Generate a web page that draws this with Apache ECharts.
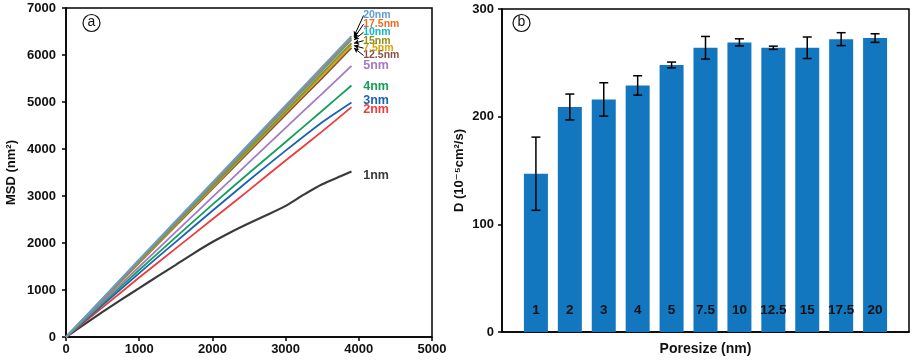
<!DOCTYPE html>
<html><head><meta charset="utf-8">
<script src="https://cdn.jsdelivr.net/npm/echarts@6/dist/echarts.min.js"></script>
<style>html,body{margin:0;padding:0;background:#fff}#c{width:913px;height:361px}</style>
</head><body><div id="c"></div>
<script>
// ---- Panel (a): MSD vs time ----
var msdX = [0, 500, 1000, 1500, 2000, 2500, 3000, 3500, 3900];
var msd1X = [0, 250, 500, 750, 1000, 1250, 1500, 1750, 2000, 2250, 2500, 2750, 3000, 3250, 3500, 3750, 3900];
var msd1nm = [0, 270, 535, 790, 1040, 1290, 1535, 1785, 2020, 2230, 2420, 2600, 2790, 3030, 3250, 3420, 3520];
var msd2nm = [0, 630, 1265, 1885, 2505, 3125, 3755, 4375, 4890];
var msd3nm = [0, 680, 1360, 2025, 2685, 3335, 3965, 4570, 4990];
var msd4nm = [0, 715, 1425, 2125, 2815, 3490, 4150, 4815, 5350];
var msd5nm = [0, 750, 1495, 2235, 2975, 3715, 4450, 5180, 5770];
var msd75nm = [0, 795, 1590, 2385, 3180, 3975, 4770, 5560, 6200];
var msd10nm = [0, 810, 1625, 2430, 3240, 4050, 4860, 5670, 6320];
var msd125nm = [0, 790, 1575, 2365, 3150, 3940, 4725, 5510, 6150];
var msd15nm = [0, 800, 1605, 2405, 3205, 4005, 4800, 5610, 6250];
var msd175nm = [0, 815, 1635, 2450, 3265, 4080, 4890, 5710, 6360];
var msd20nm = [0, 820, 1650, 2470, 3290, 4110, 4930, 5750, 6400];
var lineNames = ['1nm', '2nm', '3nm', '4nm', '5nm', '12.5nm', '7.5nm', '15nm', '10nm', '17.5nm', '20nm'];
var lineColors = ['#3a3a3a', '#ee3b3b', '#1862b8', '#14a05a', '#a57bc4', '#8a5046', '#d9a400', '#8f8e1e', '#12b5c9', '#f26a21', '#5aa0d6'];
var lineLabelY = [3440, 4830, 5040, 5330, 5770, 5990, 6145, 6305, 6485, 6655, 6840];
var xTicks = [0, 1000, 2000, 3000, 4000, 5000];
var yTicksA = [0, 1000, 2000, 3000, 4000, 5000, 6000, 7000];

// ---- Panel (b): diffusion coefficient ----
var poreSizes = ['1', '2', '3', '4', '5', '7.5', '10', '12.5', '15', '17.5', '20'];
var dValues = [147, 209, 216, 229, 248, 264, 269, 264, 264, 272, 273];
var dErrors = [34, 12, 15.5, 9, 2.7, 10.5, 3.3, 1.5, 10, 6, 4];
var yTicksB = [0, 100, 200, 300];

var seriesData = [msd1nm, msd2nm, msd3nm, msd4nm, msd5nm, msd125nm, msd75nm, msd15nm, msd10nm, msd175nm, msd20nm];
var FONT = '"Liberation Sans", Arial, "DejaVu Sans", sans-serif';

function pair(xs, ys) { return ys.map(function (v, i) { return [xs[i], v]; }); }

var series = [];
seriesData.forEach(function (d, i) {
  var xs = (i === 0) ? msd1X : msdX;
  var s = {
    type: 'line', xAxisIndex: 0, yAxisIndex: 0, name: lineNames[i],
    data: pair(xs, d), showSymbol: false, symbol: 'none', smooth: 0.2,
    lineStyle: { color: lineColors[i], width: (i === 0 ? 2.2 : 1.8) },
    z: 2 + i
  };
  var end = d[d.length - 1];
  var isCluster = i >= 5;
  s.markPoint = {
    symbol: 'circle', symbolSize: 0, silent: true,
    data: [{ coord: [4060, lineLabelY[i]], value: lineNames[i] }],
    label: {
      show: true, position: 'right', distance: 0, formatter: lineNames[i],
      color: lineColors[i], fontFamily: FONT, fontWeight: 'bold',
      fontSize: isCluster ? 10.5 : 12.5
    }
  };
  if (isCluster) {
    s.markLine = {
      silent: true, symbol: ['none', 'arrow'], symbolSize: [4, 5],
      lineStyle: { color: '#000', width: 1, type: 'solid' },
      label: { show: false },
      data: [[{ coord: [4065, lineLabelY[i]] }, { coord: [3935, end] }]]
    };
  }
  series.push(s);
});

series.push({
  type: 'bar', xAxisIndex: 1, yAxisIndex: 1,
  data: dValues.map(function (v, i) { return [i + 1, v]; }),
  barWidth: 24,
  itemStyle: { color: '#1277be' },
  label: {
    show: true, position: 'insideBottom', distance: 15,
    formatter: function (p) { return poreSizes[p.dataIndex]; },
    color: '#111', fontFamily: FONT, fontWeight: 'bold', fontSize: 13.5
  },
  z: 2
});

series.push({
  type: 'custom', xAxisIndex: 1, yAxisIndex: 1,
  data: dValues.map(function (v, i) { return [i + 1, v - dErrors[i], v + dErrors[i]]; }),
  renderItem: function (params, api) {
    var x = api.value(0);
    var lo = api.coord([x, api.value(1)]);
    var hi = api.coord([x, api.value(2)]);
    var hw = 4.5;
    var st = { stroke: '#000', lineWidth: 1.5 };
    return {
      type: 'group', children: [
        { type: 'line', shape: { x1: lo[0], y1: lo[1], x2: hi[0], y2: hi[1] }, style: st },
        { type: 'line', shape: { x1: lo[0] - hw, y1: lo[1], x2: lo[0] + hw, y2: lo[1] }, style: st },
        { type: 'line', shape: { x1: hi[0] - hw, y1: hi[1], x2: hi[0] + hw, y2: hi[1] }, style: st }
      ]
    };
  },
  z: 5
});

function plain(v) { return String(v); }
var axisLabelStyle = { color: '#111', fontFamily: FONT, fontWeight: 'bold', fontSize: 13, formatter: plain };
var chart = echarts.init(document.getElementById('c'));
chart.setOption({
  animation: false,
  backgroundColor: '#fff',
  grid: [
    { left: 66, right: 481, top: 8, bottom: 24, show: true, borderColor: '#000', borderWidth: 1.5, backgroundColor: 'transparent' },
    { left: 502, right: 4, top: 9, bottom: 26, show: true, borderColor: '#000', borderWidth: 1.5, backgroundColor: 'transparent' }
  ],
  xAxis: [
    {
      type: 'value', gridIndex: 0, min: xTicks[0], max: xTicks[xTicks.length - 1], interval: 1000,
      axisLine: { lineStyle: { color: '#000', width: 1.5 } },
      axisTick: { show: true, inside: false, length: 4, lineStyle: { color: '#000', width: 1.5 } },
      splitLine: { show: false },
      axisLabel: Object.assign({ margin: 6 }, axisLabelStyle)
    },
    {
      type: 'value', gridIndex: 1, min: 0, max: 12,
      axisLine: { lineStyle: { color: '#000', width: 1.5 } },
      axisTick: { show: false }, axisLabel: { show: false }, splitLine: { show: false },
      name: 'Poresize (nm)', nameLocation: 'middle', nameGap: 10,
      nameTextStyle: { color: '#111', fontFamily: FONT, fontWeight: 'bold', fontSize: 14, verticalAlign: 'top' }
    }
  ],
  yAxis: [
    {
      type: 'value', gridIndex: 0, min: yTicksA[0], max: yTicksA[yTicksA.length - 1], interval: 1000,
      axisLine: { show: true, lineStyle: { color: '#000', width: 1.5 } },
      axisTick: { show: true, inside: false, length: 4, lineStyle: { color: '#000', width: 1.5 } },
      splitLine: { show: false },
      axisLabel: Object.assign({ margin: 10 }, axisLabelStyle),
      name: 'MSD (nm²)', nameLocation: 'middle', nameGap: 48, nameRotate: 90,
      nameTextStyle: { color: '#111', fontFamily: FONT, fontWeight: 'bold', fontSize: 13 }
    },
    {
      type: 'value', gridIndex: 1, min: yTicksB[0], max: yTicksB[yTicksB.length - 1], interval: 100,
      axisLine: { show: true, lineStyle: { color: '#000', width: 1.5 } },
      axisTick: { show: true, inside: false, length: 4, lineStyle: { color: '#000', width: 1.5 } },
      splitLine: { show: false },
      axisLabel: Object.assign({ margin: 8 }, axisLabelStyle),
      name: 'D (10⁻⁵cm²/s)', nameLocation: 'middle', nameGap: 36, nameRotate: 90,
      nameTextStyle: { color: '#111', fontFamily: FONT, fontWeight: 'bold', fontSize: 13 }
    }
  ],
  graphic: [
    { type: 'circle', shape: { cx: 91.5, cy: 23, r: 8.5 }, style: { fill: '#fff', stroke: '#111', lineWidth: 1.2 } },
    { type: 'text', x: 91.5, y: 22.5, style: { text: 'a', fill: '#111', font: '14px ' + FONT, align: 'center', verticalAlign: 'middle' } },
    { type: 'circle', shape: { cx: 521.5, cy: 23, r: 8.5 }, style: { fill: '#fff', stroke: '#111', lineWidth: 1.2 } },
    { type: 'text', x: 521.5, y: 22.5, style: { text: 'b', fill: '#111', font: '14px ' + FONT, align: 'center', verticalAlign: 'middle' } }
  ],
  series: series
});
</script></body></html>
